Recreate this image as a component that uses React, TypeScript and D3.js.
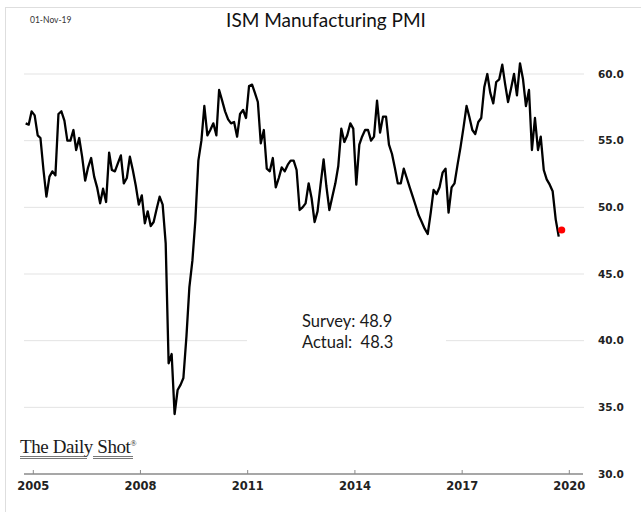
import React from "react";
import * as d3 from "d3";

// ISM Manufacturing PMI, monthly readings (Oct 2004 – Sep 2019)
const pmi2004 = [56.3, 56.2, 57.2];
const pmi2005 = [56.9, 55.4, 55.2, 52.8, 50.8, 52.3, 52.7, 52.4, 57.0, 57.2, 56.5, 55.0];
const pmi2006 = [55.0, 55.8, 54.3, 55.2, 53.8, 52.0, 53.0, 53.7, 52.3, 51.5, 50.3, 51.4];
const pmi2007 = [50.4, 54.1, 52.8, 52.7, 53.3, 53.9, 51.8, 52.2, 53.8, 52.8, 51.6, 50.2];
const pmi2008 = [50.9, 48.8, 49.7, 48.6, 48.9, 49.9, 50.8, 50.2, 47.3, 38.3, 39.0, 34.5];
const pmi2009 = [36.3, 36.7, 37.2, 40.3, 44.0, 46.0, 49.0, 53.5, 55.0, 57.6, 55.4, 55.8];
const pmi2010 = [56.3, 55.4, 58.8, 58.0, 57.2, 56.6, 56.3, 56.4, 55.3, 57.0, 57.3, 56.7];
const pmi2011 = [59.1, 59.2, 58.6, 57.9, 54.8, 55.8, 52.9, 52.7, 53.7, 51.5, 52.2, 53.0];
const pmi2012 = [52.7, 53.2, 53.5, 53.5, 52.8, 49.8, 50.0, 50.3, 51.8, 50.7, 48.9, 49.7];
const pmi2013 = [51.7, 53.6, 51.6, 49.8, 50.8, 51.8, 53.1, 55.9, 54.9, 55.4, 56.3, 55.9];
const pmi2014 = [51.7, 54.7, 55.3, 55.8, 55.8, 55.0, 55.3, 58.0, 55.6, 56.8, 56.8, 54.7];
const pmi2015 = [54.0, 52.9, 51.8, 51.8, 52.9, 52.2, 51.5, 50.8, 50.1, 49.4, 48.9, 48.4];
const pmi2016 = [48.0, 49.6, 51.3, 51.0, 51.5, 52.6, 52.9, 49.6, 51.5, 51.8, 53.2, 54.5];
const pmi2017 = [56.0, 57.6, 56.8, 55.8, 55.5, 56.4, 56.7, 59.0, 60.0, 58.6, 57.8, 59.4];
const pmi2018 = [59.6, 60.7, 59.3, 57.9, 58.9, 60.0, 58.4, 60.8, 59.6, 57.6, 58.8, 54.3];
const pmi2019 = [56.7, 54.3, 55.3, 52.8, 52.1, 51.7, 51.2, 49.1, 47.8];

// Latest release (October 2019)
const surveyValue = 48.9;
const actualValue = 48.3;

const yearTicks = [2005, 2008, 2011, 2014, 2017, 2020];
const valueTicks = [30, 35, 40, 45, 50, 55, 60];

const W = 641;
const H = 512;

export default function App() {
  const values = [
    ...pmi2004, ...pmi2005, ...pmi2006, ...pmi2007, ...pmi2008, ...pmi2009,
    ...pmi2010, ...pmi2011, ...pmi2012, ...pmi2013, ...pmi2014, ...pmi2015,
    ...pmi2016, ...pmi2017, ...pmi2018, ...pmi2019,
  ];
  const start = new Date(2004, 9, 15);
  const series = values.map((v, i) => ({ date: d3.timeMonth.offset(start, i), value: v }));
  const latest = { date: d3.timeMonth.offset(start, values.length), value: actualValue };

  const x = d3
    .scaleTime()
    .domain([new Date(2005, 0, 1), new Date(2020, 0, 1)])
    .range([33.3, 569.3]);
  const y = d3.scaleLinear().domain([30, 60]).range([474, 74]);

  const line = d3
    .line<{ date: Date; value: number }>()
    .x((d) => x(d.date))
    .y((d) => y(d.value));

  const gridLeft = 24;
  const gridRight = 584;

  return (
    <svg
      width={W}
      height={H}
      style={{ position: "absolute", left: 0, top: 0, background: "#ffffff" }}
    >
      {/* frame */}
      <line x1={5} y1={7.5} x2={W} y2={7.5} stroke="#dedede" strokeWidth={1} />
      <line x1={5.5} y1={7} x2={5.5} y2={H} stroke="#dedede" strokeWidth={1} />

      {/* date stamp and title */}
      <text x={30} y={23} fontFamily="Lato, sans-serif" fontSize={8.5} fill="#333">
        01-Nov-19
      </text>
      <text
        x={326}
        y={27}
        textAnchor="middle"
        fontFamily="Lato, sans-serif"
        fontSize={19}
        fill="#111"
      >
        ISM Manufacturing PMI
      </text>

      {/* horizontal grid */}
      {valueTicks
        .filter((v) => v > 30)
        .map((v) => (
          <line
            key={v}
            x1={gridLeft}
            x2={gridRight}
            y1={y(v)}
            y2={y(v)}
            stroke="#e3e3e3"
            strokeWidth={1}
          />
        ))}

      {/* value labels */}
      {valueTicks.map((v) => (
        <text
          key={v}
          x={598}
          y={y(v)}
          dy="0.36em"
          fontFamily="DejaVu Sans, sans-serif"
          fontWeight="bold"
          fontSize={10.5}
          fill="#222"
        >
          {v.toFixed(1)}
        </text>
      ))}

      {/* annotation box */}
      <rect x={247} y={300} width={199} height={62} fill="#ffffff" />
      <text x={302} y={327} fontFamily="Lato, sans-serif" fontSize={16.5} fill="#1a1a1a">
        {`Survey: ${surveyValue.toFixed(1)}`}
      </text>
      <text
        x={302}
        y={348}
        fontFamily="Lato, sans-serif"
        fontSize={16.5}
        fill="#1a1a1a"
        style={{ whiteSpace: "pre" }}
      >
        {`Actual:  ${actualValue.toFixed(1)}`}
      </text>

      {/* x axis */}
      <line x1={gridLeft} x2={583} y1={474} y2={474} stroke="#8a8a8a" strokeWidth={1.5} />
      {yearTicks.map((yr) => {
        const px = x(new Date(yr, 0, 1));
        return (
          <g key={yr}>
            <line x1={px} x2={px} y1={470} y2={474} stroke="#8a8a8a" strokeWidth={1} />
            <text
              x={px}
              y={490}
              textAnchor="middle"
              fontFamily="DejaVu Sans, sans-serif"
              fontWeight="bold"
              fontSize={11.5}
              fill="#222"
            >
              {yr}
            </text>
          </g>
        );
      })}

      {/* brand mark */}
      <text
        x={20}
        y={453}
        fontFamily="Liberation Serif, serif"
        fontSize={19}
        fill="#1a1a1a"
        letterSpacing={-0.4}
      >
        The Daily Shot
        <tspan fontSize={8} dy={-7}>®</tspan>
      </text>
      <line x1={20} x2={87} y1={456.5} y2={456.5} stroke="#555" strokeWidth={0.8} />
      <line x1={20} x2={87} y1={458.5} y2={458.5} stroke="#555" strokeWidth={0.8} />
      <line x1={93} x2={133} y1={456.5} y2={456.5} stroke="#555" strokeWidth={0.8} />
      <line x1={93} x2={133} y1={458.5} y2={458.5} stroke="#555" strokeWidth={0.8} />

      {/* PMI line */}
      <path
        d={line(series) ?? ""}
        fill="none"
        stroke="#000"
        strokeWidth={2.3}
        strokeLinejoin="round"
      />
      <circle cx={x(latest.date)} cy={y(latest.value)} r={3.6} fill="#ff0000" />
    </svg>
  );
}
